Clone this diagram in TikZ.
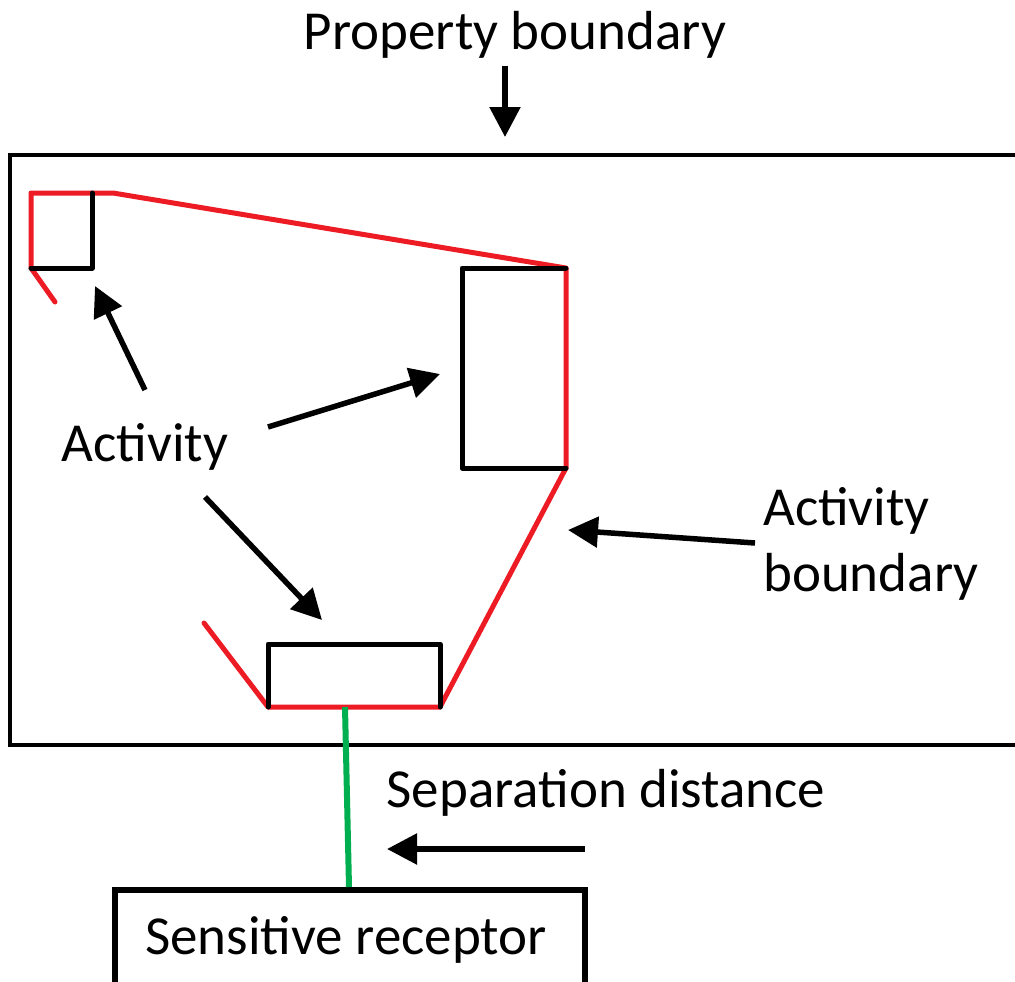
\documentclass[tikz,border=0pt]{standalone}
\usepackage{fontspec}
\setmainfont{Carlito}
\usetikzlibrary{arrows.meta}
\definecolor{bred}{RGB}{237,28,36}
\definecolor{bgreen}{RGB}{0,176,80}
\begin{document}
\begin{tikzpicture}[x=1pt,y=-1pt,
  lbl/.style={font=\fontsize{55}{66}\selectfont, inner sep=0pt},
  blk/.style={line width=5pt, line cap=round, line join=round},
  redl/.style={draw=bred, line width=5pt, line cap=round, line join=round},
  arr/.style={line width=5.5pt, -{Triangle[length=30pt,width=30pt]}}]
\useasboundingbox (0,0) rectangle (1015,982);
\begin{scope}
\clip (0,0) rectangle (1015,982);
% property boundary
\draw[line width=3.5pt] (10,155) rectangle (1030,745);
% receptor
\draw[line width=6pt] (115,995) -- (115,890) -- (585,890) -- (585,995);
\end{scope}
\node[lbl] (pb) at (515,35) {Property boundary};
\coordinate (pbs) at (505,66);
\coordinate (pbe) at (505,137);
\draw[arr] (pbs) -- (pbe);

% activity boxes corner coordinates
\coordinate (a1) at (31,193);
\coordinate (a2) at (92,193);
\coordinate (a3) at (92,268);
\coordinate (a4) at (31,268);
\coordinate (b1) at (462,268);
\coordinate (b2) at (566,268);
\coordinate (b3) at (566,468);
\coordinate (b4) at (462,468);
\coordinate (c1) at (268,644);
\coordinate (c2) at (440,644);
\coordinate (c3) at (440,707);
\coordinate (c4) at (268,707);

% activity boundary (red)
\draw[redl] (55,302) -- (a4) -- (a1) -- (113,193) -- (b2) -- (b3) -- (c3) -- (c4) -- (204,623);
% activities (black)
\draw[blk] (a2) -- (a3) -- (a4);
\draw[blk] (b2) -- (b1) -- (b4) -- (b3);
\draw[blk] (c4) -- (c1) -- (c2) -- (c3);

% separation line
\coordinate (g1) at (345,707);
\coordinate (g2) at (349,887);
\draw[draw=bgreen, line width=6pt] (g1) -- (g2);
\node[lbl] (rt) at (346,940) {Sensitive receptor};

% labels
\node[lbl] (act) at (145,447) {Activity};
\draw[arr] (145,390) -- (95,286);
\draw[arr] (268,427) -- (440,374);
\draw[arr] (205,497) -- (322,620);

\node[lbl, align=left, anchor=west] (ab) at (763,544) {Activity\\boundary};
\draw[arr] (755,543) -- (568,530);

\node[lbl] (sd) at (606,793) {Separation distance};
\draw[arr] (585,849) -- (387,849);
\end{tikzpicture}
\end{document}
